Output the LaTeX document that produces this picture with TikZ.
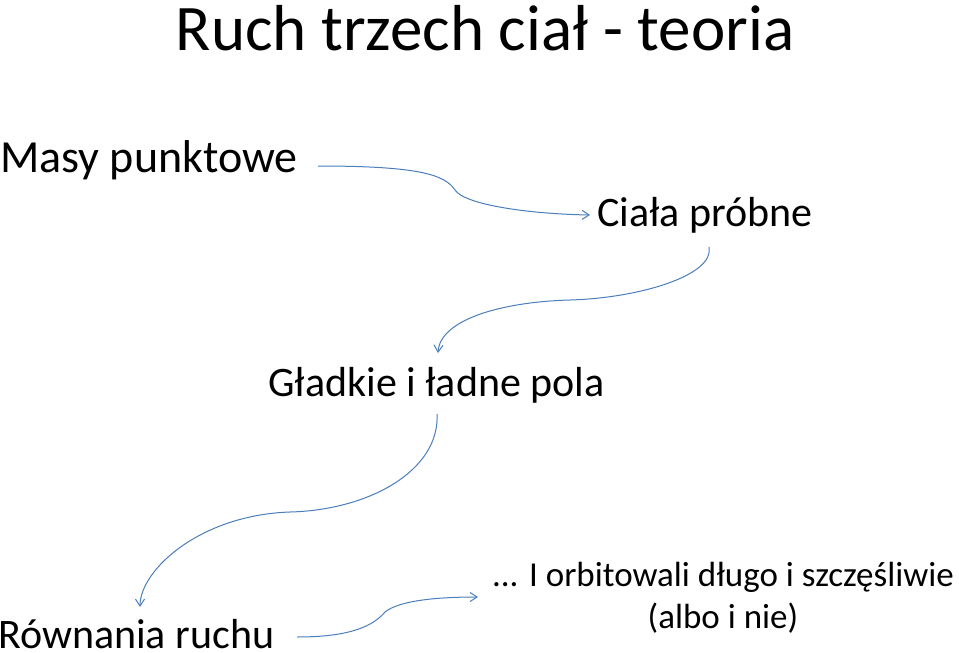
\documentclass[tikz,border=0pt]{standalone}
\usepackage{fontspec}
\setmainfont{Carlito}
\usetikzlibrary{arrows.meta}
\definecolor{arr}{RGB}{74,126,187}
\begin{document}
\begin{tikzpicture}[x=1pt,y=-1pt,
  lbl/.style={inner sep=0pt,font=\fontsize{42}{46}\selectfont},
  conn/.style={draw=arr,line width=1pt,-{Straight Barb[length=7pt,width=9pt]}}]
\useasboundingbox (0,0) rectangle (959,653);
\node[inner sep=0pt,font=\fontsize{65}{72}\selectfont] (t) at (485,28) {Ruch trzech ciał - teoria};
\node[lbl,anchor=west,font=\fontsize{46}{50}\selectfont] (m) at (0,160) {Masy punktowe};
\node[lbl,anchor=west] (c) at (597,215) {Ciała próbne};
\node[lbl,anchor=west] (g) at (268,385) {Gładkie i ładne pola};
\node[lbl,anchor=west] (r) at (-2,634) {Równania ruchu};
\node[lbl,align=center,font=\fontsize{35}{42}\selectfont] (o) at (723,598) {... I orbitowali długo i szczęśliwie\\(albo i nie)};
\coordinate (a1) at (318,166);
\coordinate (b1) at (590,215);
\coordinate (a2) at (709,247);
\coordinate (b2) at (438,353);
\coordinate (a3) at (437,414);
\coordinate (b3) at (140,607);
\coordinate (a4) at (297,637);
\coordinate (b4) at (478,597);
\draw[conn] (a1) .. controls (420,166) and (445,175) .. (455,190) .. controls (465,205) and (530,214) .. (b1);
\draw[conn] (a2) .. controls (715,275) and (640,298) .. (570,300) .. controls (500,302) and (440,320) .. (b2);
\draw[conn] (a3) .. controls (440,470) and (370,510) .. (290,512) .. controls (200,515) and (140,570) .. (b3);
\draw[conn] (a4) .. controls (340,637) and (370,630) .. (385,612) .. controls (400,600) and (440,597) .. (b4);
\end{tikzpicture}
\end{document}
